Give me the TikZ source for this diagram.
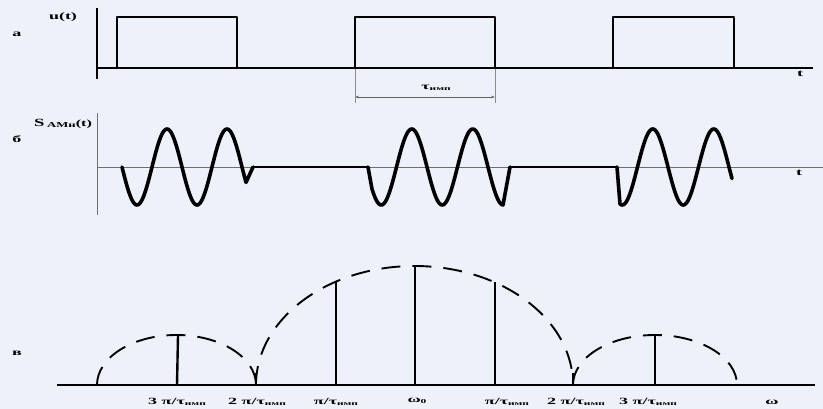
\documentclass[tikz,border=0pt]{standalone}
\usepackage{fontspec}
\setmainfont{Liberation Serif}
\usetikzlibrary{arrows.meta}
\definecolor{bgc}{RGB}{236,241,250}
\definecolor{axgray}{RGB}{110,110,110}
\definecolor{dimgray}{RGB}{140,140,140}
\newcommand{\lbl}[2][1.9]{\scalebox{#1}[1]{\bfseries #2}}
\newcommand{\subtx}[1]{\raisebox{-0.35ex}{\fontsize{6}{7}\selectfont #1}}
\begin{document}
\begin{tikzpicture}[x=1pt,y=-1pt,line join=round,
  txt/.style={inner sep=0pt,font=\fontsize{9.5}{10}\selectfont},
  pulse/.style={line width=2.3pt},
  wave/.style={line width=3.6pt,line cap=round},
  flat/.style={line width=2.3pt},
  lobe/.style={line width=1.9pt,dash pattern=on 19pt off 12pt},
  stem/.style={line width=1.8pt}]
\fill[bgc] (0,0) rectangle (823,409);
\useasboundingbox (0,0) rectangle (823,409);

% ---------- panel a ----------
\coordinate (aTop) at (97,8);
\coordinate (aBot) at (97,79);
\coordinate (aO) at (97,68);
\coordinate (aEnd) at (813,68);
\draw[line width=2.6pt] (aTop) -- (aBot);
\draw[line width=1.8pt] (aO) -- (aEnd);
\draw[pulse] (117,68) -- (117,17) -- (237,17) -- (237,68);
\draw[pulse] (355,68) -- (355,17) -- (495,17) -- (495,68);
\draw[pulse] (613,68) -- (613,17) -- (734,17) -- (734,68);
\node[txt] (ulab) at (63,17) {\lbl[1.8]{\fontsize{10}{11}\selectfont u(t)}};
\node[txt] (alab) at (17,34) {\lbl{а}};
\node[txt] (at) at (800,74) {\lbl{t}};
% dimension
\coordinate (d1a) at (355,69);
\coordinate (d1b) at (355,103);
\coordinate (d2a) at (495,69);
\coordinate (d2b) at (495,103);
\draw[dimgray,line width=0.9pt] (d1a) -- (d1b);
\draw[dimgray,line width=0.9pt] (d2a) -- (d2b);
\coordinate (dl) at (355,97);
\coordinate (dr) at (495,97);
\draw[dimgray!70!black,line width=0.8pt,{Stealth[length=4pt,width=2.5pt]}-{Stealth[length=4pt,width=2.5pt]}] (dl) -- (dr);
\node[txt] (tau) at (436,88) {\lbl{τ\subtx{имп}}};

% ---------- panel b ----------
\coordinate (bTop) at (97,113);
\coordinate (bBot) at (97,215);
\coordinate (bO) at (97,167);
\coordinate (bEnd) at (823,167);
\draw[axgray,line width=0.9pt] (bTop) -- (bBot);
\draw[axgray,line width=0.9pt] (bO) -- (bEnd);
\draw[wave] plot[domain=122:246,samples=120] (\x,{167+38*sin(6*(\x-122))}) -- (253,167);
\draw[flat] (253,167) -- (368,167);
\draw[wave] (368,167) -- plot[domain=372:503,samples=120] (\x,{167+38*sin(360/61*(\x-366))}) -- (510,167);
\draw[flat] (510,167) -- (617,167);
\draw[wave] (617,167) -- plot[domain=620:732,samples=120] (\x,{167+38*sin(360/61*(\x-607))});
\node[txt] (slab) at (63,124) {\lbl[1.7]{{\fontsize{11}{12}\selectfont S}\,\raisebox{-0.2ex}{\fontsize{7.5}{8}\selectfont АМн}(t)}};
\node[txt] (blab) at (17,139) {\lbl{б}};
\node[txt] (bt) at (799,173) {\lbl{t}};

% ---------- panel v ----------
\coordinate (vO) at (57,385);
\coordinate (vEnd) at (815,385);
\draw[line width=1.8pt] (vO) -- (vEnd);
\draw[lobe] (97,385) arc[start angle=180,end angle=360,x radius=79.5,y radius=50];
\draw[lobe] (256,385) arc[start angle=180,end angle=360,x radius=158.5,y radius=119];
\draw[lobe] (573,385) arc[start angle=180,end angle=360,x radius=82,y radius=50];
\draw[line width=2.4pt] (177,385) -- (178,336);
\draw[line width=2.6pt] (256,385) -- (256,373);
\draw[stem] (336,385) -- (336,282);
\draw[line width=2.8pt] (415,385) -- (415,266);
\draw[stem] (495,385) -- (495,282);
\draw[line width=2.6pt] (573,385) -- (573,373);
\draw[line width=2.4pt] (655,385) -- (655,336);
\node[txt] (vlab) at (17,353) {\lbl{в}};
\node[txt] (l1) at (177,402) {\lbl{3 π/τ\subtx{имп}}};
\node[txt] (l2) at (257,402) {\lbl{2 π/τ\subtx{имп}}};
\node[txt] (l3) at (336,402) {\lbl{π/τ\subtx{имп}}};
\node[txt] (l4) at (417,401) {\lbl{ω\subtx{0}}};
\node[txt] (l5) at (507,402) {\lbl{π/τ\subtx{имп}}};
\node[txt] (l6) at (576,402) {\lbl{2 π/τ\subtx{имп}}};
\node[txt] (l7) at (648,402) {\lbl{3 π/τ\subtx{имп}}};
\node[txt] (l8) at (772,402) {\lbl{ω}};
\end{tikzpicture}
\end{document}
